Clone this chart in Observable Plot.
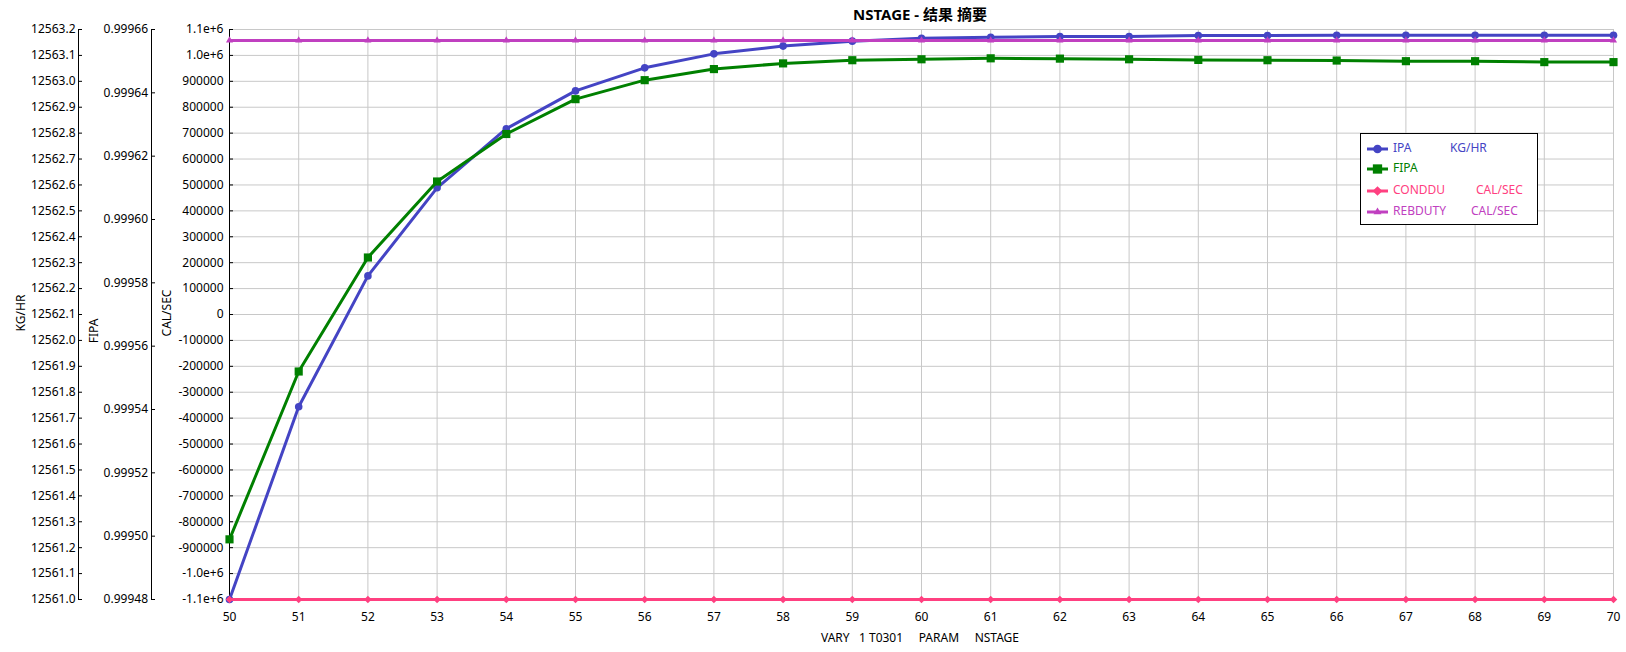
<!DOCTYPE html>
<html><head><meta charset="utf-8">
<script src="https://cdn.jsdelivr.net/npm/d3@7"></script>
<script src="https://cdn.jsdelivr.net/npm/@observablehq/plot@0.6"></script>
<style>
body{margin:0;background:#fff;font-family:"Noto Sans","Noto Sans CJK SC",sans-serif;}
#wrap{position:relative;width:1626px;height:652px;overflow:hidden;background:#fff}
.abs{position:absolute;white-space:pre;color:#000;font-size:12px;line-height:1}
.rot{transform:translate(-50%,-50%) rotate(-90deg);}
#legend{position:absolute;left:1360px;top:133px;width:176px;height:90px;border:1px solid #000;background:#fff}
#legend .t{position:absolute;font-size:12px;line-height:1;white-space:pre}
#legend svg{position:absolute}
</style></head><body><div id="wrap"></div>
<script>
// ---- data ----
const stages = [50,51,52,53,54,55,56,57,58,59,60,61,62,63,64,65,66,67,68,69,70];
// IPA (KG/HR axis)
const ipa = [12561.000,12561.744,12562.249,12562.589,12562.817,12562.963,12563.052,12563.106,12563.136,12563.155,12563.166,12563.170,12563.173,12563.173,12563.177,12563.177,12563.178,12563.178,12563.178,12563.178,12563.178];
// FIPA (FIPA axis)
const fipa = [0.999499,0.999552,0.999588,0.999612,0.999627,0.999638,0.999644,0.9996475,0.9996493,0.9996503,0.9996506,0.9996509,0.9996508,0.9996506,0.9996504,0.9996503,0.9996502,0.9996500,0.9996500,0.9996497,0.9996497];
// CONDDU, REBDUTY (CAL/SEC axis)
const conddu = [-1100000,-1100000,-1100000,-1100000,-1100000,-1100000,-1100000,-1100000,-1100000,-1100000,-1100000,-1100000,-1100000,-1100000,-1100000,-1100000,-1100000,-1100000,-1100000,-1100000,-1100000];
const rebduty = [1058000,1058000,1058000,1058000,1058000,1058000,1058000,1058000,1058000,1058000,1058000,1058000,1058000,1058000,1058000,1058000,1058000,1058000,1058000,1058000,1058000];

// tick values
const calTicks = [-1100000,-1000000,-900000,-800000,-700000,-600000,-500000,-400000,-300000,-200000,-100000,0,100000,200000,300000,400000,500000,600000,700000,800000,900000,1000000,1100000];
const kgTicks = [12561.0,12561.1,12561.2,12561.3,12561.4,12561.5,12561.6,12561.7,12561.8,12561.9,12562.0,12562.1,12562.2,12562.3,12562.4,12562.5,12562.6,12562.7,12562.8,12562.9,12563.0,12563.1,12563.2];
const fipaTicks = [0.99948,0.99950,0.99952,0.99954,0.99956,0.99958,0.99960,0.99962,0.99964,0.99966];
const xTicks = stages;

const title = "NSTAGE - 结果 摘要";
const xLabel = "VARY   1 T0301     PARAM     NSTAGE";
const seriesNames = ["IPA","FIPA","CONDDU","REBDUTY"];
const seriesUnits = ["KG/HR","","CAL/SEC","CAL/SEC"];
const colors = {IPA:"#4444c4", FIPA:"#008000", CONDDU:"#ff4080", REBDUTY:"#c040c0"};

// secondary axis mappings onto the CAL/SEC scale
const kgToCal = d3.scaleLinear().domain([12561.0, 12563.2]).range([-1100000, 1100000]);
const fipaToCal = d3.scaleLinear().domain([0.99948, 0.99966]).range([-1100000, 1100000]);

const rows = [];
stages.forEach((s,i)=>{
  rows.push({stage:s, series:"IPA", v:kgToCal(ipa[i])});
  rows.push({stage:s, series:"FIPA", v:fipaToCal(fipa[i])});
  rows.push({stage:s, series:"CONDDU", v:conddu[i]});
  rows.push({stage:s, series:"REBDUTY", v:rebduty[i]});
});
const of = n => rows.filter(d=>d.series===n);

const fmtCal = v => Math.abs(v) >= 1e6 ? v.toExponential(1) : String(Math.round(v));
const kgLabel = new Map(kgTicks.map(t=>[kgToCal(t), t.toFixed(1)]));
const fipaLabel = new Map(fipaTicks.map(t=>[fipaToCal(t), t.toFixed(5)]));

const symbols = {IPA:["circle",3.8], FIPA:["square",4.6], CONDDU:["diamond2",3.4], REBDUTY:["triangle",2.6]};

const marks = [
  Plot.gridX(xTicks, {stroke:"#c8c8c8", strokeOpacity:1}),
  Plot.gridY(calTicks, {stroke:"#c8c8c8", strokeOpacity:1}),
  Plot.ruleX([50], {stroke:"#000"}),
  Plot.ruleX([50], {stroke:"#000", dx:-78}),
  Plot.ruleX([50], {stroke:"#000", dx:-151}),
  // CAL/SEC axis
  Plot.axisY(calTicks, {tickSize:0, tickPadding:6, tickFormat:fmtCal, label:null, fill:"#000"}),
  Plot.axisY(calTicks, {tickSize:4, dx:4, tickFormat:()=>"", label:null, stroke:"#000"}),
  // FIPA axis
  Plot.axisY(fipaTicks.map(fipaToCal), {tickSize:0, tickPadding:3.5, dx:-78, tickFormat:v=>fipaLabel.get(v), label:null, fill:"#000"}),
  Plot.axisY(fipaTicks.map(fipaToCal), {tickSize:4, dx:-74, tickFormat:()=>"", label:null, stroke:"#000"}),
  // KG/HR axis
  Plot.axisY(kgTicks.map(kgToCal), {tickSize:0, tickPadding:3, dx:-151, tickFormat:v=>kgLabel.get(v), label:null, fill:"#000"}),
  Plot.axisY(kgTicks.map(kgToCal), {tickSize:4, dx:-147, tickFormat:()=>"", label:null, stroke:"#000"}),
  // x axis
  Plot.axisX(xTicks, {tickSize:0, tickPadding:13, tickFormat:d=>String(d), label:null, fill:"#000"})
];
for (const n of seriesNames) {
  marks.push(Plot.line(of(n), {x:"stage", y:"v", stroke:colors[n], strokeWidth:3}));
  marks.push(Plot.dot(of(n), {x:"stage", y:"v", fill:colors[n], stroke:"none", symbol:symbols[n][0], r:symbols[n][1]}));
}

const chart = Plot.plot({
  width:1626, height:652,
  marginTop:29, marginBottom:53, marginLeft:229, marginRight:13,
  style:{fontFamily:'"Noto Sans","Noto Sans CJK SC",sans-serif', fontSize:"12px", color:"#000", background:"transparent", overflow:"visible"},
  x:{domain:[50,70], axis:null},
  y:{domain:[-1100000,1100000], axis:null},
  marks
});
const wrap = document.getElementById("wrap");
chart.style.position = "absolute"; chart.style.left = "0"; chart.style.top = "0";
wrap.appendChild(chart);

function addText(txt, css, cls) {
  const d = document.createElement("div");
  d.className = "abs " + (cls||"");
  d.textContent = txt;
  Object.assign(d.style, css);
  wrap.appendChild(d);
  return d;
}
addText(title, {left:"920px", top:"14px", transform:"translate(-50%,-50%)", fontWeight:"bold", fontSize:"15px"});
addText(xLabel, {left:"920px", top:"638px", transform:"translate(-50%,-50%)"});
addText("KG/HR", {left:"21px", top:"313px"}, "rot");
addText("FIPA", {left:"94px", top:"331px"}, "rot");
addText("CAL/SEC", {left:"167px", top:"313px"}, "rot");

// legend
const leg = document.createElement("div");
leg.id = "legend";
wrap.appendChild(leg);
const legY = [15, 35, 57, 78];
const unitX = [89, null, 115, 110];
seriesNames.forEach((n,i)=>{
  const c = colors[n];
  const svg = d3.create("svg").attr("width",24).attr("height",12)
    .style("left","5px").style("top",(legY[i]-6)+"px");
  svg.append("line").attr("x1",1).attr("x2",22).attr("y1",6).attr("y2",6).attr("stroke",c).attr("stroke-width",3);
  const [sym, r] = symbols[n];
  const symType = {circle:d3.symbolCircle, square:d3.symbolSquare, diamond2:d3.symbolSquare, triangle:d3.symbolTriangle}[sym];
  svg.append("path").attr("d", d3.symbol(symType, Math.PI*r*r*1.3)()).attr("fill",c)
    .attr("transform", `translate(11.5,6)${sym==="diamond2"?" rotate(45)":""}`);
  leg.appendChild(svg.node());
  const t = document.createElement("div");
  t.className = "t"; t.textContent = n; t.style.color = c;
  t.style.left = "32px"; t.style.top = (legY[i]-7)+"px";
  leg.appendChild(t);
  if (seriesUnits[i]) {
    const u = document.createElement("div");
    u.className = "t"; u.textContent = seriesUnits[i]; u.style.color = c;
    u.style.left = unitX[i]+"px"; u.style.top = (legY[i]-7)+"px";
    leg.appendChild(u);
  }
});
</script></body></html>
